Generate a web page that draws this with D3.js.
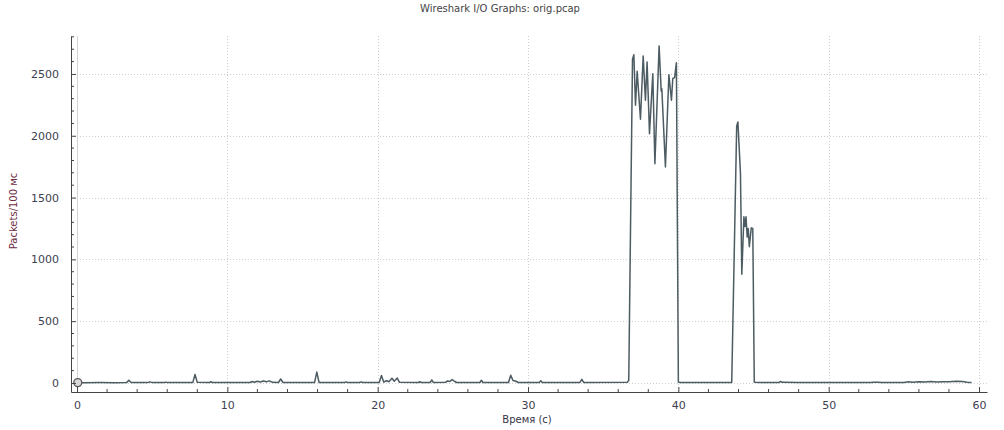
<!DOCTYPE html>
<html>
<head>
<meta charset="utf-8">
<script src="https://cdn.jsdelivr.net/npm/d3@7"></script>
<style>
body{margin:0;background:#fff;}
svg{display:block;font-family:"DejaVu Sans",Verdana,sans-serif;}
</style>
</head>
<body>
<div id="ioGraph"></div>
<script>
// packets per 100 ms
let times = [0,0.5,1.5,2.5,3.3,3.45,3.6,4.7,4.85,5.0,5.8,5.9,6.0,7.7,7.85,8.0,8.8,8.9,9.0,10.5,
 11.5,11.65,11.8,12.0,12.2,12.4,12.6,12.8,13.0,13.4,13.55,13.7,15.8,15.95,16.1,17.8,17.9,18.0,18.8,18.9,19.0,
 20.1,20.25,20.4,20.6,20.75,20.95,21.1,21.3,21.45,22.7,22.8,22.9,23.5,23.6,23.7,24.5,24.65,24.8,24.95,25.1,25.25,
 26.8,26.9,27.0,28.7,28.85,29.0,29.2,29.35,30.75,30.85,30.95,33.45,33.58,33.7,36.6,36.7,
 36.95,37.04,37.15,37.26,37.48,37.66,37.81,37.92,38.08,38.3,38.44,38.72,38.86,38.9,39.14,39.37,39.54,39.63,39.75,39.87,40.0,40.1,
 41,42,43,43.55,43.88,43.96,44.13,44.22,44.36,44.43,44.5,44.58,44.65,44.72,44.85,44.95,45.05,45.5,
 46.7,46.8,46.9,48,50,52.8,53.0,53.3,53.5,55.0,55.3,55.6,56.0,56.4,56.8,57.2,57.6,58.0,58.5,58.9,59.2,59.5];
let packets = [3,2,3,2,3,22,4,3,9,3,3,7,3,3,68,5,3,10,3,3,
 4,12,6,14,8,16,10,17,5,4,32,4,3,88,4,3,9,3,3,9,3,
 4,60,8,18,10,38,14,40,5,4,10,4,4,24,4,5,16,12,27,14,4,
 4,22,4,4,62,20,14,4,4,18,4,4,30,4,5,20,
 2620,2656,2247,2522,2133,2646,2287,2597,2017,2502,1774,2727,2360,2380,1748,2494,2287,2463,2470,2591,8,3,
 3,3,3,3,2080,2112,1700,880,1345,1265,1345,1180,1250,1103,1255,1250,5,3,
 4,12,5,3,3,3,6,5,3,4,9,6,10,7,11,8,10,9,13,12,6,3];

let xTicks = [0,10,20,30,40,50,60];
let yTicks = [0,500,1000,1500,2000,2500];

let data = times.map((t,i) => ({t:t, v:packets[i]}));

let width = 1004, height = 430;
let svg = d3.select("#ioGraph").append("svg").attr("width",width).attr("height",height);

let scaleX = d3.scaleLinear().domain([-0.4,60.53]).range([71,987]);
let scaleY = d3.scaleLinear().domain([-73,2807]).range([392,36]);

// grid
let grid = svg.append("g");
grid.selectAll("line.gx").data(xTicks).enter().append("line")
 .attr("x1",d=>Math.round(scaleX(d))+0.5).attr("x2",d=>Math.round(scaleX(d))+0.5)
 .attr("y1",36).attr("y2",392)
 .style("stroke",d=> d==0 ? "#d4d4d4" : "#cfcfcf")
 .style("stroke-dasharray",d=> d==0 ? null : "1,2");
grid.selectAll("line.gy").data(yTicks).enter().append("line")
 .attr("y1",d=>Math.round(scaleY(d))+0.5).attr("y2",d=>Math.round(scaleY(d))+0.5)
 .attr("x1",71).attr("x2",987)
 .style("stroke","#cfcfcf").style("stroke-dasharray","1,2");

// line
let line = d3.line().x(d=>scaleX(d.t)).y(d=>scaleY(d.v));
svg.append("path").datum(data).attr("d",line)
 .style("fill","none").style("stroke","#4d5c63").style("stroke-width",1.5)
 .style("stroke-linejoin","round");

svg.append("circle").attr("cx",scaleX(0.05)).attr("cy",scaleY(3)).attr("r",4)
 .style("fill","#d8d8d8").style("stroke","#5a5a5a").style("stroke-width",1.3);

// axes
let axisX = d3.axisBottom(scaleX).tickValues(xTicks).tickFormat(d3.format("d")).tickSizeInner(-5).tickSizeOuter(0).tickPadding(10);
let axisY = d3.axisLeft(scaleY).tickValues(yTicks).tickFormat(d3.format("d")).tickSizeInner(-5).tickSizeOuter(0).tickPadding(12);
let gx = svg.append("g").attr("transform","translate(0,392)").call(axisX);
let gy = svg.append("g").attr("transform","translate(71,0)").call(axisY);
// minor ticks
gx.selectAll("line.minor").data(d3.range(0,61,2).filter(d=>d%10)).enter().append("line")
 .attr("x1",d=>scaleX(d)).attr("x2",d=>scaleX(d)).attr("y1",0).attr("y2",-3).style("stroke","#444");
gy.selectAll("line.minor").data(d3.range(0,2801,100).filter(d=>d%500)).enter().append("line")
 .attr("y1",d=>scaleY(d)).attr("y2",d=>scaleY(d)).attr("x1",0).attr("x2",3).style("stroke","#444");
[gx,gy].forEach(g=>{
 g.select(".domain").style("stroke","#444");
 g.selectAll(".tick line").style("stroke","#444");
 g.selectAll("text").style("font-size","11px").style("fill","#3e3e52").style("font-family","DejaVu Sans");
});
gx.selectAll(".tick text").attr("dy","0.6em");

// labels
svg.append("text").text("Wireshark I/O Graphs: orig.pcap").attr("x",500).attr("y",12)
 .attr("text-anchor","middle").style("font-size","10px").style("fill","#444");
svg.append("text").text("Время (с)").attr("x",527).attr("y",423)
 .attr("text-anchor","middle").style("font-size","10px").style("fill","#333344");
svg.append("text").text("Packets/100 мс").attr("transform","translate(17,211) rotate(-90)")
 .attr("text-anchor","middle").style("font-size","10px").style("fill","#6b2c44");
</script>
</body>
</html>
